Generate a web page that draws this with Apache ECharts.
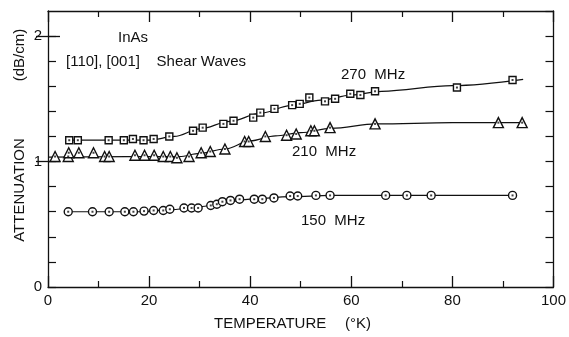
<!DOCTYPE html>
<html>
<head>
<meta charset="utf-8">
<script src="https://cdn.jsdelivr.net/npm/echarts@6/dist/echarts.min.js"></script>
<style>
  html, body { margin: 0; padding: 0; background: #fff; }
  #chart { width: 569px; height: 337px; }
</style>
</head>
<body>
<div id="chart"></div>
<script>
// measured points (temperature K, attenuation dB/cm)
const t270 = [4.2, 5.9, 12.0, 15.0, 16.8, 18.9, 20.9, 24.0, 28.7, 30.6, 34.7, 36.7, 40.6, 42.0, 44.8, 48.3, 49.8, 51.7, 54.8, 56.8, 59.8, 61.8, 64.7, 80.9, 91.9];
const a270 = [1.17, 1.17, 1.17, 1.17, 1.18, 1.17, 1.18, 1.20, 1.245, 1.27, 1.30, 1.325, 1.35, 1.39, 1.42, 1.45, 1.46, 1.51, 1.48, 1.50, 1.54, 1.53, 1.56, 1.59, 1.65];

const t210 = [1.4, 4.0, 4.1, 6.1, 9.0, 11.2, 12.1, 17.2, 19.1, 21.0, 22.8, 24.2, 25.5, 27.9, 30.3, 32.1, 35.0, 38.9, 39.7, 43.0, 47.2, 49.1, 52.0, 52.7, 55.8, 64.7, 89.1, 93.8];
const a210 = [1.04, 1.04, 1.07, 1.07, 1.07, 1.04, 1.04, 1.05, 1.05, 1.05, 1.04, 1.04, 1.03, 1.04, 1.07, 1.08, 1.10, 1.16, 1.16, 1.20, 1.21, 1.22, 1.245, 1.245, 1.27, 1.30, 1.31, 1.31];

const t150 = [4.0, 8.8, 12.1, 15.2, 16.9, 19.0, 20.9, 22.8, 24.1, 26.9, 28.4, 29.7, 32.2, 33.4, 34.5, 36.1, 37.9, 40.8, 42.4, 44.7, 47.9, 49.4, 53.0, 55.8, 66.8, 71.0, 75.8, 91.9];
const a150 = [0.60, 0.60, 0.60, 0.60, 0.60, 0.605, 0.61, 0.61, 0.62, 0.63, 0.63, 0.63, 0.65, 0.66, 0.68, 0.69, 0.70, 0.70, 0.70, 0.71, 0.725, 0.725, 0.73, 0.73, 0.73, 0.73, 0.73, 0.73];

// hand drawn curves through the points
const fitT270 = [4, 20, 25, 30, 36, 42, 48, 54, 60, 66, 80, 94];
const fitA270 = [1.17, 1.17, 1.20, 1.26, 1.32, 1.385, 1.445, 1.49, 1.53, 1.56, 1.605, 1.655];
const fitT210 = [0, 26, 30, 35, 40, 45, 50, 56, 65, 80, 94];
const fitA210 = [1.035, 1.04, 1.065, 1.10, 1.165, 1.205, 1.23, 1.265, 1.30, 1.31, 1.31];
const fitT150 = [4, 18, 24, 30, 35, 40, 48, 56, 92];
const fitA150 = [0.60, 0.60, 0.615, 0.64, 0.675, 0.70, 0.72, 0.73, 0.73];

const yMajor = [1, 2];

const zip = (xs, ys) => xs.map((x, i) => [x, ys[i]]);

const ink = '#111';
const font = 'Liberation Sans';

const chart = echarts.init(document.getElementById('chart'));

function xAx(pos, labels) {
  return {
    type: 'value', position: pos, min: 0, max: 100, interval: 20,
    axisLine: { show: true, onZero: false, lineStyle: { color: ink, width: 1.3 } },
    axisTick: { show: true, inside: true, length: 11, lineStyle: { color: ink, width: 1.3 } },
    minorTick: { show: true, splitNumber: 2, length: 6, lineStyle: { color: ink, width: 1.2 } },
    splitLine: { show: false },
    axisLabel: { show: labels, color: ink, fontFamily: font, fontSize: 15, margin: 6 }
  };
}

function yAx(pos, labels) {
  return {
    type: 'value', position: pos, min: 0, max: 2.2, interval: 0.2,
    axisLine: { show: true, onZero: false, lineStyle: { color: ink, width: 1.3 } },
    axisTick: { show: true, inside: true, length: 8, lineStyle: { color: ink, width: 1.2 } },
    splitLine: { show: false },
    axisLabel: {
      show: labels, color: ink, fontFamily: font, fontSize: 15, margin: 6,
      showMaxLabel: false,
      formatter: v => (Math.abs(v - Math.round(v)) < 1e-6 ? String(Math.round(v)) : '')
    }
  };
}

function yLong(pos) {
  return {
    type: 'value', position: pos, min: 0, max: 2.2,
    axisLine: { show: false },
    axisTick: { show: true, inside: true, length: 12, customValues: yMajor, lineStyle: { color: ink, width: 1.3 } },
    splitLine: { show: false },
    axisLabel: { show: false }
  };
}

function fitLine(xs, ys) {
  return {
    type: 'line', data: zip(xs, ys), showSymbol: false, smooth: 0.35, smoothMonotone: 'x',
    lineStyle: { color: ink, width: 1.2 }, silent: true, z: 2
  };
}

function marks(xs, ys, symbol, size) {
  return {
    type: 'scatter', data: zip(xs, ys), symbol: symbol, symbolSize: size,
    itemStyle: { color: '#fff', borderColor: ink, borderWidth: 1.4, opacity: 1 }, z: 3
  };
}

function dots(xs, ys) {
  return {
    type: 'scatter', data: zip(xs, ys), symbol: 'rect', symbolSize: 2,
    itemStyle: { color: ink }, z: 4
  };
}

function label(text, x, y, size) {
  return {
    type: 'text', x: x, y: y,
    style: { text: text, fill: ink, font: size + 'px "' + font + '"', textVerticalAlign: 'middle' }
  };
}

function vlabel(text, x, y) {
  return {
    type: 'text', x: x, y: y, rotation: Math.PI / 2,
    style: { text: text, fill: ink, font: '15px "' + font + '"', textAlign: 'center', textVerticalAlign: 'middle' }
  };
}

chart.setOption({
  backgroundColor: '#fff',
  animation: false,
  grid: { left: 48, right: 14, top: 11, bottom: 50 },
  xAxis: [xAx('bottom', true), xAx('top', false)],
  yAxis: [yAx('left', true), yAx('right', false), yLong('left'), yLong('right')],
  series: [
    fitLine(fitT270, fitA270),
    fitLine(fitT210, fitA210),
    fitLine(fitT150, fitA150),
    marks(t270, a270, 'rect', 7),
    marks(t210, a210, 'triangle', 10),
    marks(t150, a150, 'circle', 8),
    dots(t270, a270),
    dots(t210, a210),
    dots(t150, a150)
  ],
  graphic: [
    label('InAs', 118, 38, 15),
    label('[110], [001]    Shear Waves', 66, 62, 15),
    label('270  MHz', 341, 75, 15),
    label('210  MHz', 292, 152, 15),
    label('150  MHz', 301, 221, 15),
    {
      type: 'text', x: 214, y: 324,
      style: { text: 'TEMPERATURE', fill: ink, font: '15px "' + font + '"', textVerticalAlign: 'middle' }
    },
    {
      type: 'text', x: 345, y: 324,
      style: { text: '(°K)', fill: ink, font: '15px "' + font + '"', textVerticalAlign: 'middle' }
    },
    vlabel('ATTENUATION', 20, 190),
    vlabel('(dB/cm)', 20, 55)
  ]
});
</script>
</body>
</html>
